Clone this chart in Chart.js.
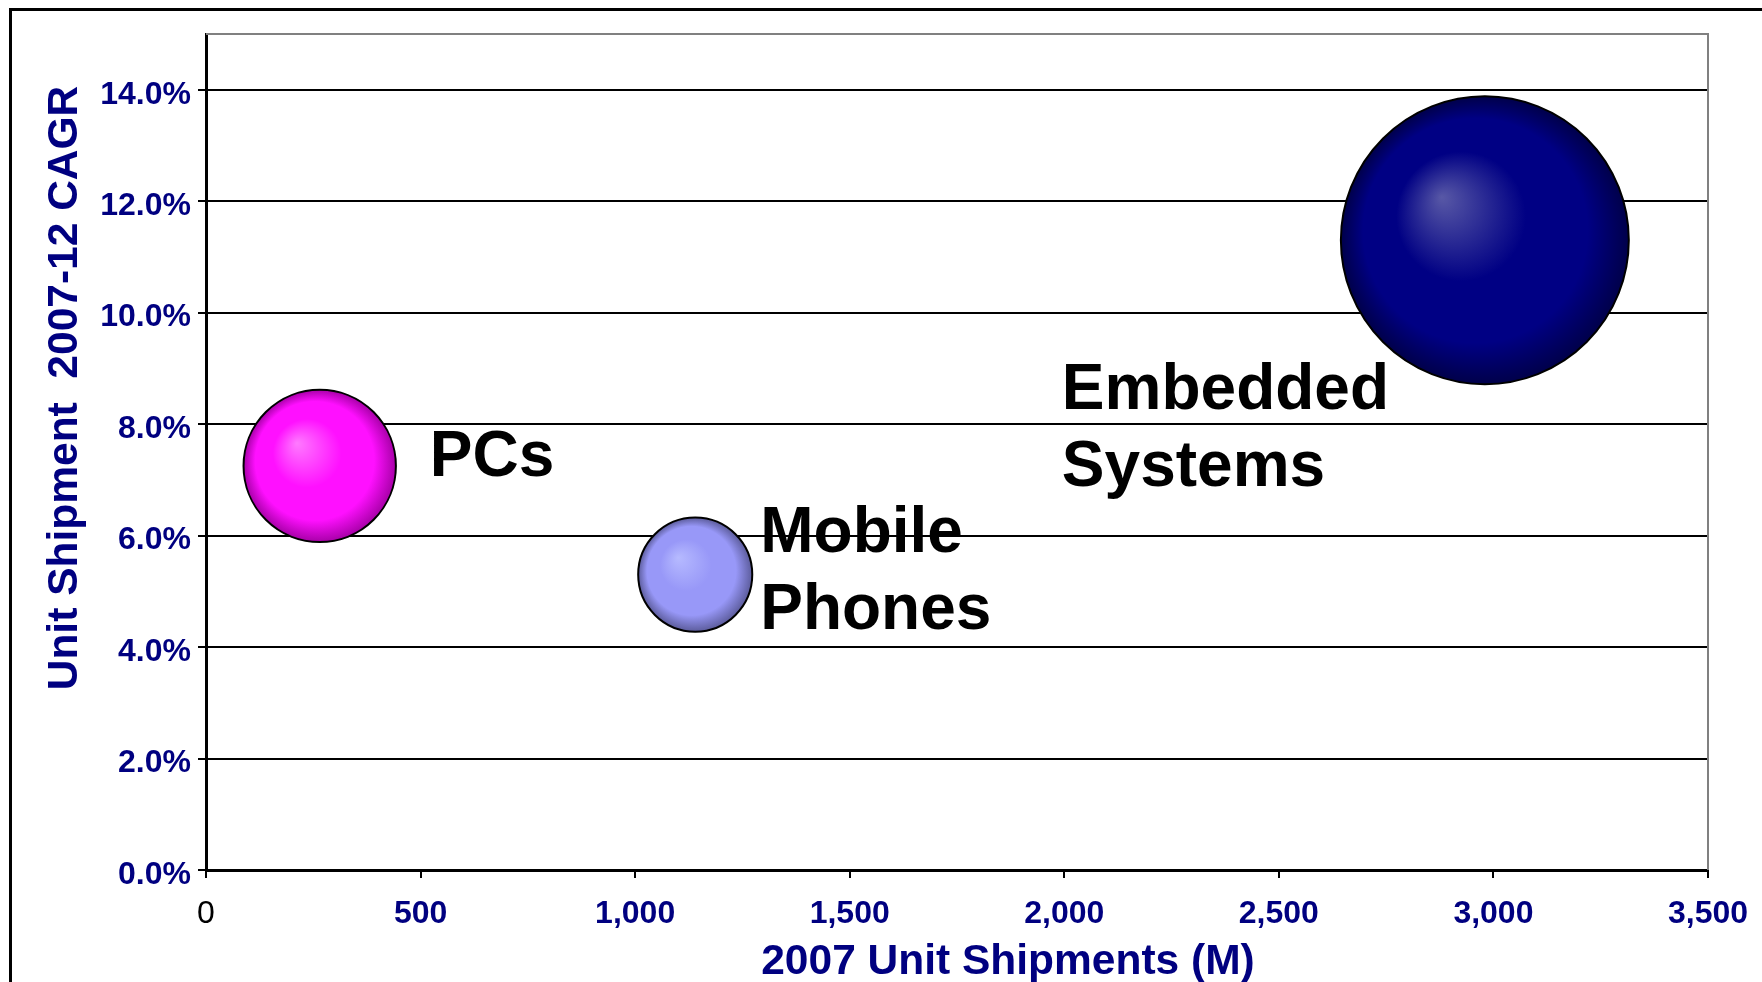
<!DOCTYPE html>
<html>
<head>
<meta charset="utf-8">
<title>2007 Unit Shipments vs 2007-12 CAGR</title>
<script src="https://cdn.jsdelivr.net/npm/chart.js@4.4.1/dist/chart.umd.min.js"></script>
<style>
  html, body { margin: 0; padding: 0; background: #fff; }
  #wrap { width: 1762px; height: 982px; }
</style>
</head>
<body>
<div id="wrap"><canvas id="grafico" width="1762" height="982"></canvas></div>
<script>
// values
const categories = [['PCs'], ['Mobile', 'Phones'], ['Embedded', 'Systems']];
const shipments = [265, 1140, 2980];      // 2007 unit shipments (M)
const cagr = [7.25, 5.3, 11.3];           // 2007-12 CAGR (%)
const bubbleSizes = [28, 15.7, 100];      // relative bubble size
const xTicks = [0, 500, 1000, 1500, 2000, 2500, 3000, 3500];
const yTicks = [0, 2, 4, 6, 8, 10, 12, 14];
const xTitle = '2007 Unit Shipments (M)';
const yTitle = 'Unit Shipment  2007-12 CAGR';

const navy = '#000080';
const family = "'Liberation Sans', Arial, sans-serif";

// highlight / base / edge colour of each bubble
const bubbleColors = [
    ['#ff7aff', '#ff10ff', '#a800a8'],
    ['#b6baff', '#9898f8', '#5c5c9c'],
    ['#5858a6', '#000084', '#00004a']
];

// where each label sits relative to its bubble centre (px)
const labelOffsets = [[110, 10], [65, -23], [-423, 169]];
const labelLineHeight = 77;

function bubbleRadius(chart, i) {
    const area = chart.chartArea;
    const maxR = (area ? area.bottom - area.top : 836) * 0.1722;
    return maxR * Math.sqrt(bubbleSizes[i] / Math.max(...bubbleSizes));
}

function bubbleFill(c) {
    const chart = c.chart;
    const i = c.dataIndex;
    if (i === undefined) return navy;
    const cols = bubbleColors[i];
    if (!chart.chartArea) return cols[1];
    const x = chart.scales.x.getPixelForValue(shipments[i]);
    const y = chart.scales.y.getPixelForValue(cagr[i]);
    const r = bubbleRadius(chart, i);
    const g = chart.ctx.createRadialGradient(x - 0.3 * r, y - 0.3 * r, 0, x, y, r);
    g.addColorStop(0, cols[0]);
    g.addColorStop(0.45, cols[1]);
    g.addColorStop(0.78, cols[1]);
    g.addColorStop(1, cols[2]);
    return g;
}

const decorPlugin = {
    id: 'decor',
    beforeDraw(chart) {
        const ctx = chart.ctx;
        ctx.save();
        ctx.fillStyle = '#fff';
        ctx.fillRect(0, 0, chart.width, chart.height);
        // outer frame (runs off the right and bottom edges)
        ctx.strokeStyle = '#000';
        ctx.lineWidth = 3;
        ctx.beginPath();
        ctx.moveTo(10.5, chart.height + 5);
        ctx.lineTo(10.5, 9.5);
        ctx.lineTo(chart.width + 5, 9.5);
        ctx.stroke();
        ctx.restore();
    },
    beforeDatasetsDraw(chart) {
        const ctx = chart.ctx;
        const a = chart.chartArea;
        ctx.save();
        ctx.strokeStyle = '#808080';
        ctx.lineWidth = 2;
        ctx.beginPath();
        ctx.moveTo(a.left, a.top);
        ctx.lineTo(a.right, a.top);
        ctx.lineTo(a.right, a.bottom);
        ctx.stroke();
        ctx.restore();
    },
    afterDatasetsDraw(chart) {
        const ctx = chart.ctx;
        const xs = chart.scales.x;
        const ys = chart.scales.y;
        ctx.save();
        // bubble labels
        ctx.fillStyle = '#000';
        ctx.font = 'bold 64px ' + family;
        ctx.textAlign = 'left';
        ctx.textBaseline = 'alphabetic';
        categories.forEach((lines, i) => {
            const x = xs.getPixelForValue(shipments[i]) + labelOffsets[i][0];
            const y = ys.getPixelForValue(cagr[i]) + labelOffsets[i][1];
            lines.forEach((t, k) => ctx.fillText(t, x, y + k * labelLineHeight));
        });
        // axis titles
        ctx.fillStyle = navy;
        ctx.font = 'bold 42.5px ' + family;
        ctx.textAlign = 'center';
        ctx.fillText(xTitle, 1008, 973.5);
        ctx.translate(77, 388);
        ctx.rotate(-Math.PI / 2);
        ctx.fillText(yTitle, 0, 0);
        ctx.restore();
    }
};

new Chart(document.getElementById('grafico'), {
    type: 'bubble',
    data: {
        datasets: [{
            data: shipments.map((x, i) => ({ x: x, y: cagr[i] })),
            radius: c => bubbleRadius(c.chart, c.dataIndex),
            backgroundColor: bubbleFill,
            borderColor: '#000',
            borderWidth: 2
        }]
    },
    options: {
        responsive: false,
        animation: false,
        devicePixelRatio: 1,
        events: [],
        layout: {
            autoPadding: false,
            padding: { left: 0, top: 34, right: 54, bottom: 0 }
        },
        plugins: {
            legend: { display: false },
            tooltip: { enabled: false }
        },
        scales: {
            x: {
                type: 'linear',
                min: 0,
                max: 3500,
                afterFit: s => {
                    s.height = 112;
                    s.paddingLeft = 0;
                    s.paddingRight = 0;
                },
                afterBuildTicks: s => { s.ticks = xTicks.map(v => ({ value: v })); },
                grid: { drawOnChartArea: false, color: '#000', lineWidth: 2, tickLength: 8 },
                border: { color: '#000', width: 3 },
                ticks: {
                    padding: 17,
                    maxRotation: 0,
                    autoSkip: false,
                    color: c => (c.tick && c.tick.value === 0) ? '#000' : navy,
                    font: c => ({
                        family: family,
                        size: 32,
                        weight: (c.tick && c.tick.value === 0) ? 'normal' : 'bold'
                    }),
                    callback: v => v.toLocaleString('en-US')
                }
            },
            y: {
                type: 'linear',
                min: 0,
                max: 15,
                afterFit: s => {
                    s.width = 206;
                    s.paddingTop = 0;
                    s.paddingBottom = 0;
                },
                afterBuildTicks: s => { s.ticks = yTicks.map(v => ({ value: v })); },
                grid: { color: '#000', lineWidth: 2, tickLength: 8 },
                border: { color: '#000', width: 3 },
                ticks: {
                    padding: 7,
                    labelOffset: 5,
                    color: navy,
                    font: { family: family, size: 32, weight: 'bold' },
                    callback: v => v.toFixed(1) + '%'
                }
            }
        }
    },
    plugins: [decorPlugin]
});
</script>
</body>
</html>
